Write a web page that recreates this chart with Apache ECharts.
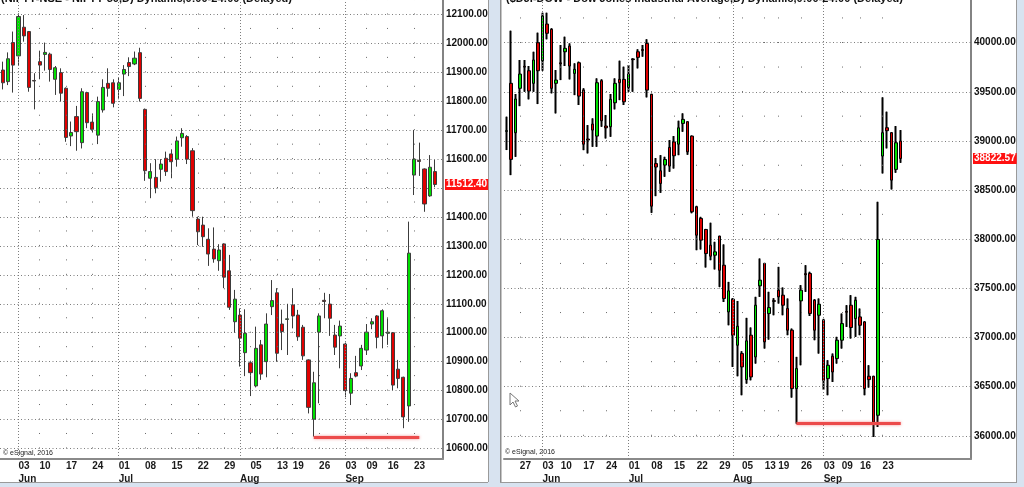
<!DOCTYPE html>
<html><head><meta charset="utf-8">
<script src="https://cdn.jsdelivr.net/npm/echarts@6/dist/echarts.min.js"></script>
<style>html,body{margin:0;padding:0;background:#fff;overflow:hidden}#c{width:1024px;height:487px}</style>
</head><body><div id="c"></div>
<script>
// ---- calendar (MM-DD) ----
const tradingDays = ["05-22","05-23","05-24","05-27","05-28","05-29","05-30","05-31",
"06-03","06-04","06-05","06-06","06-10","06-11","06-12","06-13","06-14","06-17","06-18","06-19","06-20","06-21",
"06-24","06-25","06-26","06-27","06-28","07-01","07-02","07-03","07-04","07-05","07-08","07-09","07-10","07-11","07-12",
"07-15","07-16","07-17","07-18","07-19","07-22","07-23","07-24","07-25","07-26","07-29","07-30","07-31","08-01","08-02",
"08-05","08-06","08-07","08-08","08-09","08-13","08-14","08-16","08-19","08-20","08-21","08-22","08-23",
"08-26","08-27","08-28","08-29","08-30","09-03","09-04","09-05","09-06","09-09","09-10","09-11","09-12",
"09-16","09-17","09-18","09-19","09-20","09-23","09-24","09-25","09-26","09-27"];
const futureDays = ["09-30","10-01","10-02","10-03","10-04","10-07","10-08","10-09","10-10","10-11","10-14","10-15","10-16","10-17","10-18"];
const niftyDays = tradingDays.slice(5).concat(futureDays.slice(0,1));
const dowDays = tradingDays.concat(futureDays);
const weekStarts = ["05-27","06-03","06-10","06-17","06-24","07-01","07-08","07-15","07-22","07-29","08-05","08-13","08-19","08-26","09-03","09-09","09-16","09-23"];
const monthStarts = ["06-03","07-01","08-01","09-03"];
const monthNames = ["Jun","Jul","Aug","Sep"];

// ---- NIFTY 50 daily candles [open, close, low, high] ----
const niftyCandles = [
[11908,11864,11841,11937],[11868,11947,11856,11969],[12003,11925,11830,12041],[11957,12093,11923,12104],
[12056,12026,12006,12098],[12041,11848,11833,12043],[11872,11870,11772,11897],[11937,11925,11876,11975],
[11962,11969,11906,12003],[11963,11910,11868,11968],[11876,11916,11822,11922],[11899,11828,11799,11914],
[11845,11675,11660,11848],[11680,11692,11645,11730],[11747,11695,11629,11784],[11657,11833,11637,11845],
[11830,11726,11707,11833],[11728,11703,11692,11758],[11683,11799,11652,11816],[11770,11848,11761,11876],
[11862,11845,11816,11914],[11864,11793,11779,11876],[11841,11864,11807,11883],[11894,11910,11818,11925],
[11934,11920,11887,11952],[11929,11949,11925,11972],[11968,11810,11799,11985],[11772,11560,11525,11775],
[11534,11557,11465,11586],[11537,11501,11482,11600],[11565,11583,11522,11600],[11603,11557,11542,11626],
[11618,11591,11534,11634],[11600,11663,11574,11678],[11674,11689,11643,11707],[11678,11600,11583,11683],
[11629,11422,11401,11638],[11393,11349,11303,11401],[11372,11332,11297,11401],[11323,11272,11231,11361],
[11289,11255,11242,11364],[11249,11286,11214,11306],[11307,11192,11154,11309],[11214,11088,11079,11269],
[11038,11116,11000,11148],[11061,10981,10883,11084],[10931,10998,10850,11081],[10896,10862,10781,10902],
[10816,10946,10811,11021],[10958,10857,10837,10975],[10900,11030,10846,11067],[11090,11111,11061,11182],
[11138,10929,10900,11154],[11030,11004,10940,11080],[11046,11048,10923,11100],[11096,11058,11015,11154],
[11061,10986,10972,11079],[11019,10920,10906,11027],[10906,10742,10721,10908],[10701,10827,10641,10865],
[11002,11058,10756,11067],[11112,11108,11050,11138],[11099,11050,10989,11134],[10992,10950,10923,11027],
[10989,11023,10877,11042],[10961,10800,10777,10966],[10791,10842,10750,10860],[10862,10850,10846,10920],
[10885,10946,10871,10958],[10940,11002,10923,11030],[11030,11038,11012,11050],[11058,10984,10946,11061],
[10989,11076,10946,11081],[10998,11002,10958,11050],[11000,10819,10802,11002],[10874,10842,10808,10906],
[10846,10709,10670,10848],[10747,11275,10692,11384],[11545,11600,11476,11701],[11596,11592,11542,11657],
[11566,11445,11418,11568],[11473,11572,11470,11614],[11557,11512.40,11503,11597]];

// ---- DJIA daily candles [open, close, low, high] ----
const dowCandles = [
[39098,39105,38908,39247],[39587,38813,38653,40122],[39084,39427,38839,39478],[39536,39681,39355,39824],
[39760,39752,39501,39824],[39715,39508,39424,39763],[39587,39824,39501,39908],[40000,39715,39376,40102],
[39817,40272,39715,40305],[40190,40096,40035,40305],[40136,39536,39485,40147],[39587,39620,39281,39722],
[39795,39786,39620,39977],[39908,39943,39763,40061],[39966,39763,39627,39993],[39688,39729,39467,39790],
[39796,39457,39366,39807],[39518,38968,38907,39536],[39020,39010,38874,39162],[39172,39111,38941,39230],
[39050,39593,38941,39637],[39613,39206,39145,39627],[39152,39134,39026,39264],[39145,39424,39043,39478],
[39389,39587,39322,39637],[39627,39593,39416,39817],[39627,39399,39366,39756],[39546,39681,39501,39773],
[39835,39828,39501,39841],[39908,39851,39739,39933],[39930,39922,39858,39977],[39993,39518,39444,40035],
[39475,38337,38269,39480],[38770,38735,38439,38826],[38697,38568,38473,38856],[38755,38812,38636,38839],
[38935,38745,38687,39009],[38990,38850,38720,39050],[38968,39134,38856,39206],[39179,39220,39094,39281],
[39196,38890,38860,39200],[39050,38280,38265,39055],[38330,38042,37889,38340],[38212,37991,37896,38228],
[38100,37855,37713,38105],[37940,37828,37787,38168],[37838,37872,37693,37974],[38032,37685,37515,38035],
[37736,37397,37362,37947],[37261,37475,37125,37566],[37390,37024,36701,37400],[36922,37115,36606,37372],
[36837,36701,36413,36860],[36572,36966,36531,37200],[37024,36599,36565,37102],[36803,37329,36735,37414],
[37526,37584,37414,37804],[37753,36956,36888,37760],[37244,37305,36979,37465],[37375,37368,37227,37400],
[37482,37414,37346,37719],[37431,37329,37227,37509],[37295,37075,37024,37397],[37075,36480,36389,37091],
[36480,36684,36124,36803],[37373,37482,36718,37533],[37650,37640,37465,37736],[37652,37245,37220,37669],
[37380,37075,36973,37390],[37227,37339,36837,37397],[37176,36565,36470,37190],[36582,36718,36413,36769],
[36810,36650,36548,36837],[36786,36973,36735,37007],[36973,37142,36888,37244],[37265,37258,37108,37329],
[37329,37102,36990,37431],[37193,37380,37007,37414],[37210,37125,37024,37295],[37159,36480,36413,37165],
[36606,36572,36491,36718],[36606,36141,35988,36610],[36209,37998,36090,38381],[38847,39084,38670,39444],
[39135,39105,38925,39298],[39084,38602,38507,39090],[38711,38982,38677,39152],[38999,38822.57,38778,39111]];

const niftyTicks = [10600,10700,10800,10900,11000,11100,11200,11300,11400,11500,11600,11700,11800,11900,12000,12100];
const niftyLabels = [10600,10700,10800,10900,11000,11100,11200,11300,11400,11600,11700,11800,11900,12000,12100];
const dowTicks = [36000,36500,37000,37500,38000,38500,39000,39500,40000];
const niftyLast = 11512.40, dowLast = 38822.57;
const niftySupport = 10640, dowSupport = 36125;
const niftySupportSpan = ["08-23","09-24"], dowSupportSpan = ["08-23","09-27"];

const FONT = 'Liberation Sans, Arial, sans-serif';
const GREEN = '#00e000', RED = '#e00000', DOT = '#7d7d7d';

function dayAxis(gridIndex, days) {
  return {type:'category', gridIndex, data:days, boundaryGap:true, position:'bottom',
    axisLine:{show:true, lineStyle:{color:'#8a8a8a', width:2}}, axisTick:{show:false}, splitLine:{show:false},
    axisLabel:{interval:(i,v)=>weekStarts.includes(v), formatter:v=>v.slice(3), align:'left', margin:2,
      fontSize:10, fontWeight:'bold', color:'#1a1a1a', fontFamily:FONT}};
}
function monthAxis(gridIndex, days) {
  return {type:'category', gridIndex, data:days, boundaryGap:true, position:'bottom', offset:13,
    axisLine:{show:false}, axisTick:{show:false}, splitLine:{show:false},
    axisLabel:{interval:(i,v)=>monthStarts.includes(v), formatter:v=>monthNames[monthStarts.indexOf(v)], align:'left', margin:2,
      fontSize:10, fontWeight:'bold', color:'#1a1a1a', fontFamily:FONT}};
}
function priceAxis(gridIndex, min, max, ticks, labels) {
  return {type:'value', gridIndex, position:'right', min, max, scale:true,
    axisLine:{show:true, lineStyle:{color:'#5a5a5a', width:1.5}},
    axisTick:{show:false, customValues:ticks},
    splitLine:{show:true, lineStyle:{color:DOT, width:1, type:[1,2.5]}},
    axisLabel:{customValues:labels, formatter:v=>v.toFixed(2), margin:3, fontSize:10, fontWeight:'bold', color:'#111', fontFamily:FONT}};
}
function gridMarks(days, period, offset, support, span, last) {
  const d = [];
  monthStarts.forEach(m => d.push({xAxis:m, lineStyle:{color:DOT, width:1, type:[1,2]}}));
  weekStarts.filter(w => days.includes(w) && !monthStarts.includes(w)).forEach(w =>
    d.push({xAxis:w, lineStyle:{color:'#6a6a6a', width:1, type:[1,period-1], dashOffset:offset}}));
  d.push([{coord:[span[0], support], lineStyle:{color:'#ec4b4b', width:3, type:'solid', shadowBlur:3, shadowColor:'rgba(236,75,75,0.6)'}},
          {coord:[span[1], support]}]);
  d.push({yAxis:last, lineStyle:{color:'rgba(0,0,0,0)', width:0.1}, label:{show:true, position:'end', formatter:last.toFixed(2), distance:2,
    backgroundColor:'#ff1010', color:'#fff', fontWeight:'bold', fontSize:10, fontFamily:FONT, padding:[1,1,0,1]}});
  return {silent:true, symbol:'none', animation:false, label:{show:false}, data:d};
}

const chart = echarts.init(document.getElementById('c'), null, {renderer:'canvas'});
chart.setOption({
  animation:false, backgroundColor:'#ffffff',
  grid:[
    {left:0, top:0, width:443, height:459, containLabel:false, outerBoundsMode:'none'},
    {left:504, top:0, width:467, height:459, containLabel:false, outerBoundsMode:'none'}
  ],
  xAxis:[dayAxis(0, niftyDays), monthAxis(0, niftyDays), dayAxis(1, dowDays), monthAxis(1, dowDays)],
  yAxis:[priceAxis(0, 10563.5, 12150.1, niftyTicks, niftyLabels), priceAxis(1, 35764, 40434.8, dowTicks, dowTicks)],
  series:[
    {type:'candlestick', xAxisIndex:0, yAxisIndex:0, data:niftyCandles, barWidth:3.6,
      itemStyle:{color:GREEN, color0:RED, borderColor:'#3c3c3c', borderColor0:'#3c3c3c', borderWidth:1},
      markLine:gridMarks(niftyDays, 14.465, 3.9, niftySupport, niftySupportSpan, niftyLast)},
    {type:'candlestick', xAxisIndex:2, yAxisIndex:1, data:dowCandles, barWidth:1,
      itemStyle:{color:'#000', color0:'#000', borderColor:'#000', borderColor0:'#000', borderWidth:2},
      markLine:gridMarks(dowDays, 24.55, 1.35, dowSupport, dowSupportSpan, dowLast)},
    {type:'candlestick', xAxisIndex:2, yAxisIndex:1, data:dowCandles, barWidth:3,
      itemStyle:{color:GREEN, color0:RED, borderColor:'#000', borderColor0:'#000', borderWidth:1}}
  ],
  graphic:[
    {type:'text', left:1, top:-7, style:{text:'(NIFTY-NSE - NIFTY 50,D) Dynamic,0:00-24:00 (Delayed)', font:'bold 11px '+FONT, fill:'#111'}},
    {type:'text', left:506, top:-7, style:{text:'($DJI-DOW - Dow Jones Industrial Average,D) Dynamic,0:00-24:00 (Delayed)', font:'bold 11px '+FONT, fill:'#111'}},
    {type:'text', left:3, top:450, style:{text:'© eSignal, 2016', font:'7px '+FONT, fill:'#222'}},
    {type:'text', left:505, top:449, style:{text:'© eSignal, 2016', font:'7px '+FONT, fill:'#222'}},
    {type:'polygon', shape:{points:[[510,393],[510,405],[513,402],[515.5,407],[517.5,406],[515,401],[519,401]]}, style:{fill:'#fff', stroke:'#777', lineWidth:1}},
    {type:'rect', shape:{x:488, y:0, width:13, height:487}, style:{fill:'#d8e3f0'}},
    {type:'rect', shape:{x:488, y:0, width:1, height:487}, style:{fill:'#9a9a9a'}},
    {type:'rect', shape:{x:500, y:0, width:1.5, height:483}, style:{fill:'#8c8c8c'}},
    {type:'rect', shape:{x:1016, y:0, width:8, height:487}, style:{fill:'#d8e3f0'}},
    {type:'rect', shape:{x:1016, y:0, width:1, height:483}, style:{fill:'#9a9a9a'}},
    {type:'rect', shape:{x:0, y:482, width:1024, height:5}, style:{fill:'#d8e3f0'}},
    {type:'rect', shape:{x:0, y:482, width:488, height:1}, style:{fill:'#9a9a9a'}},
    {type:'rect', shape:{x:500, y:482, width:517, height:1}, style:{fill:'#9a9a9a'}}
  ]
});
</script></body></html>
